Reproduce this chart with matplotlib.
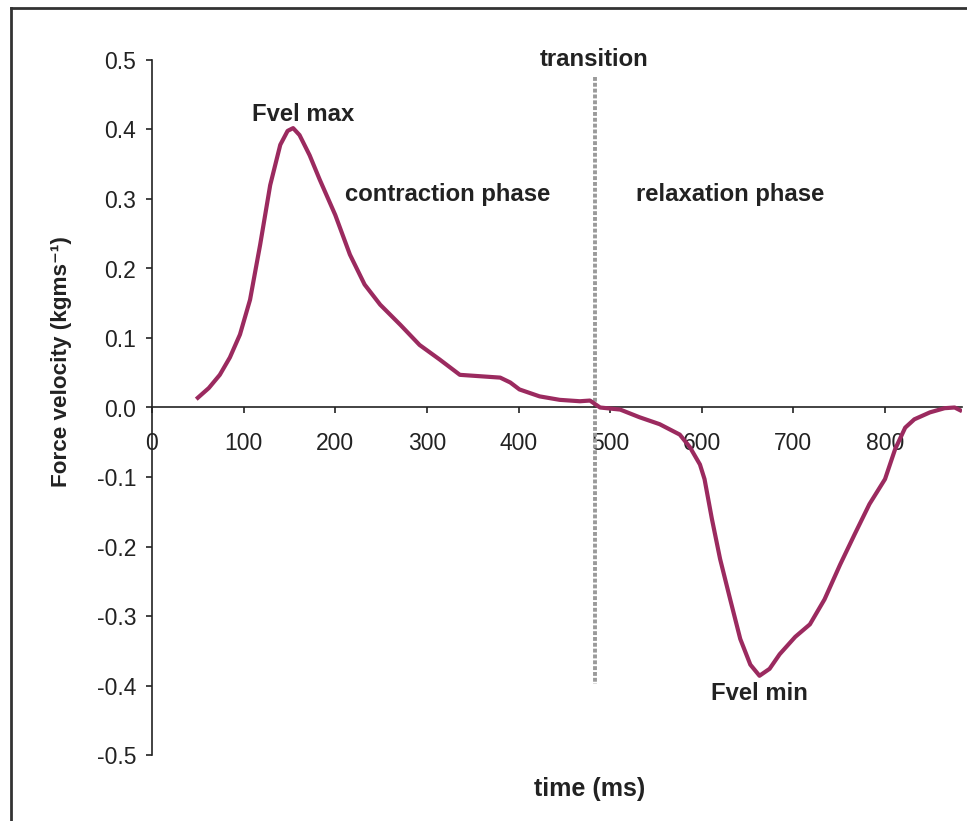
import matplotlib
matplotlib.use("Agg")
import matplotlib.pyplot as plt
from matplotlib.lines import Line2D

plt.rcParams['font.family'] = ['Liberation Sans', 'DejaVu Sans']

# --- data ---
time_ms = [50, 62, 74, 85, 96, 107, 118, 129, 140, 148, 154, 161, 172, 183, 200, 216,
           232, 249, 271, 292, 314, 336, 358, 380, 391, 401, 423, 445, 467, 478, 489,
           511, 532, 554, 576, 587, 598, 603, 611, 620, 631, 642, 653, 663, 674, 685,
           702, 718, 734, 751, 767, 783, 800, 811, 822, 832, 849, 865, 876, 882]
force_vel = [0.014, 0.028, 0.047, 0.072, 0.105, 0.155, 0.234, 0.320, 0.378, 0.398,
             0.402, 0.392, 0.363, 0.328, 0.277, 0.220, 0.177, 0.148, 0.119, 0.090,
             0.069, 0.047, 0.045, 0.043, 0.036, 0.026, 0.016, 0.011, 0.009, 0.010,
             0.000, -0.003, -0.014, -0.024, -0.039, -0.057, -0.082, -0.103, -0.160,
             -0.218, -0.276, -0.333, -0.370, -0.386, -0.376, -0.355, -0.330, -0.312,
             -0.276, -0.226, -0.182, -0.139, -0.103, -0.060, -0.029, -0.017, -0.007,
             -0.001, 0.000, -0.004]
x_ticks = [0, 100, 200, 300, 400, 500, 600, 700, 800]
y_ticks = [-0.5, -0.4, -0.3, -0.2, -0.1, 0.0, 0.1, 0.2, 0.3, 0.4, 0.5]
transition_time = 483
transition_span = [0.475, -0.398]

annotations = [
    ("Fvel max", 165, 0.422),
    ("contraction phase", 323, 0.307),
    ("relaxation phase", 631, 0.307),
    ("transition", 482, 0.501),
    ("Fvel min", 663, -0.412),
]

fig = plt.figure(figsize=(9.67, 8.21), dpi=100)
ax = fig.add_axes([152/967, 1-755/821, 810/967, 695/821])

ax.plot([transition_time, transition_time], transition_span, color='#9a9a9a',
        lw=2.8, ls=(0, (1, 0.5)), zorder=2)
ax.plot(time_ms, force_vel, color='#9b2a5f', lw=3.0, zorder=3, solid_joinstyle='round')

ax.set_xlim(0, 884)
ax.set_ylim(-0.5, 0.5)
ax.set_xticks(x_ticks)
ax.set_yticks(y_ticks)
ax.set_yticklabels([f"{v:.1f}" for v in y_ticks])

ax.spines['top'].set_visible(False)
ax.spines['right'].set_visible(False)
ax.spines['bottom'].set_position(('data', 0))
for s in ('left', 'bottom'):
    ax.spines[s].set_linewidth(1.2)
    ax.spines[s].set_color('#222222')

ax.tick_params(axis='x', direction='out', length=4.5, width=1.2, pad=13,
               labelsize=16.5, colors='#222222')
ax.tick_params(axis='y', direction='out', length=4.5, width=1.2, pad=7,
               labelsize=16.5, colors='#222222')

for txt, x, y in annotations:
    ax.text(x, y, txt, fontsize=17.2, fontweight='bold', ha='center', va='center',
            color='#222222')

fig.text(590/967, 1-789/821, "time (ms)", fontsize=18, fontweight='bold',
         ha='center', va='center', color='#222222')
fig.text(62/967, 1-362/821, "Force velocity (kgms\u207b\u00b9)", fontsize=16.2,
         fontweight='bold', ha='center', va='center', rotation=90, color='#222222')

# outer frame (top and left edges visible)
fig.add_artist(Line2D([11/967, 1.0], [1-8/821, 1-8/821], color='#333333', lw=2,
                      transform=fig.transFigure))
fig.add_artist(Line2D([11/967, 11/967], [1-8/821, 0.0], color='#333333', lw=2,
                      transform=fig.transFigure))

fig.savefig("out.png", dpi=100)
